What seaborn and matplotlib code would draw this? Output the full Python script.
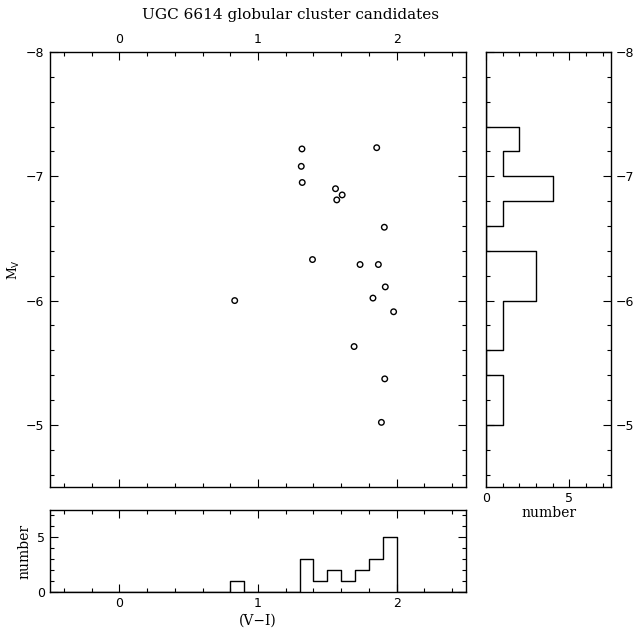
import numpy as np
import pandas as pd
import matplotlib
matplotlib.use("Agg")
import matplotlib.pyplot as plt
from matplotlib.ticker import MultipleLocator
import seaborn as sns

# ---- data ----
vi = [1.317, 1.856, 1.312, 1.319, 1.559, 1.607, 1.568, 1.911, 1.393,
      1.736, 1.868, 1.918, 0.832, 1.829, 1.978, 1.693, 1.914, 1.890]
mv = [-7.22, -7.23, -7.08, -6.95, -6.90, -6.85, -6.81, -6.59, -6.33,
      -6.29, -6.29, -6.11, -6.00, -6.02, -5.91, -5.63, -5.37, -5.02]

# colour histogram (bin width 0.1)
vi_bin_centers = [0.85, 1.35, 1.45, 1.55, 1.65, 1.75, 1.85, 1.95]
vi_bin_counts = [1, 3, 1, 2, 1, 2, 3, 5]

# magnitude histogram (bin width 0.2)
mv_bin_centers = [-7.3, -7.1, -6.9, -6.7, -6.3, -6.1, -5.9, -5.7, -5.3, -5.1]
mv_bin_counts = [2, 1, 4, 1, 3, 3, 1, 1, 1, 1]

title = "UGC 6614 globular cluster candidates"

# ---- styling ----
sns.set_style("ticks")
plt.rcParams["font.family"] = ["DejaVu Sans"]
plt.rcParams.update({
    "xtick.direction": "in", "ytick.direction": "in",
    "xtick.major.size": 6, "ytick.major.size": 6,
    "xtick.minor.size": 3, "ytick.minor.size": 3,
    "xtick.major.width": 0.8, "ytick.major.width": 0.8,
    "xtick.minor.width": 0.8, "ytick.minor.width": 0.8,
    "axes.linewidth": 1.0, "axes.edgecolor": "black",
    "xtick.color": "black", "ytick.color": "black",
    "text.color": "black", "axes.labelcolor": "black",
    "xtick.labelsize": 9, "ytick.labelsize": 9,
})
serif = ["DejaVu Serif"]

W, H = 634, 628
fig = plt.figure(figsize=(W / 100, H / 100), dpi=100)

def frac(x0, y0, x1, y1):
    return [x0 / W, 1 - y1 / H, (x1 - x0) / W, (y1 - y0) / H]

ax = fig.add_axes(frac(50, 52, 466, 487))
axr = fig.add_axes(frac(486, 52, 611, 487))
axb = fig.add_axes(frac(50, 510, 466, 592))

# main scatter
sns.scatterplot(x=vi, y=mv, ax=ax, marker="o", s=16, facecolor="none",
                edgecolor="black", linewidth=1.0)
ax.set_xlim(-0.5, 2.5)
ax.set_ylim(-4.5, -8)
ax.xaxis.set_major_locator(MultipleLocator(1))
ax.xaxis.set_minor_locator(MultipleLocator(0.2))
ax.yaxis.set_major_locator(MultipleLocator(1))
ax.yaxis.set_minor_locator(MultipleLocator(0.2))
ax.tick_params(which="both", top=True, right=True, labeltop=True,
               labelbottom=False, labelleft=True, labelright=False)
ax.tick_params(which="major", pad=4)
ax.set_ylabel(r"M$_{\rm V}$", fontsize=9, family=serif, labelpad=3)

fig.text(290 / W, 1 - 15 / H, title, family=serif, fontsize=11,
         ha="center", va="center")

# right histogram (magnitudes)
sns.histplot(y=mv_bin_centers, weights=mv_bin_counts, binwidth=0.2,
             binrange=(-7.8, -4.8), element="step", fill=False,
             color="black", linewidth=1.0, ax=axr)
axr.set_xlim(0, 7.5)
axr.set_ylim(-4.5, -8)
axr.xaxis.set_major_locator(MultipleLocator(5))
axr.xaxis.set_minor_locator(MultipleLocator(1))
axr.yaxis.set_major_locator(MultipleLocator(1))
axr.yaxis.set_minor_locator(MultipleLocator(0.2))
axr.tick_params(which="both", top=True, right=True, left=True,
                labelleft=False, labelright=True)
axr.set_ylabel("")
axr.set_xlabel("number", family=serif, fontsize=10, labelpad=1)

# bottom histogram (colours)
sns.histplot(x=vi_bin_centers, weights=vi_bin_counts, binwidth=0.1,
             binrange=(-0.5, 2.5), element="step", fill=False,
             color="black", linewidth=1.0, ax=axb)
axb.set_xlim(-0.5, 2.5)
axb.set_ylim(0, 7.5)
axb.xaxis.set_major_locator(MultipleLocator(1))
axb.xaxis.set_minor_locator(MultipleLocator(0.2))
axb.yaxis.set_major_locator(MultipleLocator(5))
axb.yaxis.set_minor_locator(MultipleLocator(1))
axb.tick_params(which="both", top=True, right=True)
axb.set_xlabel("(V\u2212I)", family=serif, fontsize=10, labelpad=3)
axb.set_ylabel("number", family=serif, fontsize=10, labelpad=4)

fig.savefig("out.png", dpi=100)
